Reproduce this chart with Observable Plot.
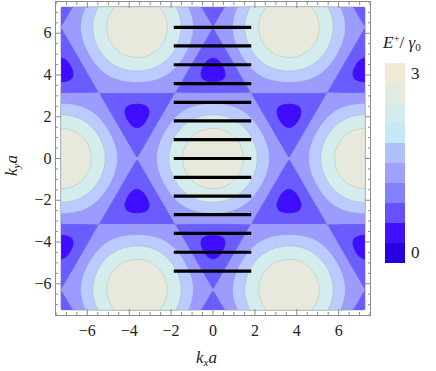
<!DOCTYPE html>
<html><head><meta charset="utf-8">
<script src="https://cdn.jsdelivr.net/npm/d3@7"></script>
<script src="https://cdn.jsdelivr.net/npm/@observablehq/plot@0.6"></script>
<style>
body{margin:0;background:#fff;font-family:"Liberation Serif",serif;}
#wrap{position:relative;width:436px;height:371px;}
.lab{position:absolute;font-style:italic;font-size:17px;color:#222;white-space:nowrap;line-height:1;}
.cb{position:absolute;left:385px;width:20px;}
.cbl{position:absolute;left:411px;font-size:17px;color:#222;line-height:1;}
</style></head>
<body><div id="wrap"></div>
<script>
// contour domain (one reciprocal period) and frame domain
const kDomain = [-7.26, 7.26];
const frameDomain = [-7.52, 7.52];
const gamma0 = 1;
// band thresholds of the contour plot and their fills
const thresholds = [0, 0.5, 1, 1.5, 2, 2.5, 3];
const bandColors = ["#3f0dff", "#6a5cff", "#9c9cff", "#bccbff", "#d4ecec", "#e6e9dc"];
// legend bar
const legendColors = ["#f2e9d6", "#e3ebe1", "#d4ecec", "#c5e8f5", "#b0c0ff", "#a0a0ff", "#8282ff", "#6650ff", "#4010ff", "#2800e0"];
const legendLabels = ["3", "0"];
// black cut lines
const lineKy = [6.28, 5.39, 4.49, 3.59, 2.69, 1.80, 0.90, 0, -0.90, -1.80, -2.69, -3.59, -4.49, -5.39];
const lineKx = [-1.85, 1.85];
// ticks
const majorTicks = [-6, -4, -2, 0, 2, 4, 6];
const minorTicks = [-7.5, -7, -6.5, -5.5, -5, -4.5, -3.5, -3, -2.5, -1.5, -1, -0.5, 0.5, 1, 1.5, 2.5, 3, 3.5, 4.5, 5, 5.5, 6.5, 7, 7.5];

const s3 = Math.sqrt(3);
const energy = (kx, ky) => gamma0 * Math.sqrt(Math.max(0,
  3 + 2 * Math.cos(s3 / 2 * kx + ky / 2) + 2 * Math.cos(s3 / 2 * kx - ky / 2) + 2 * Math.cos(ky)));

const frameStroke = "#8c8c8c";
const chart = Plot.plot({
  width: 436, height: 371,
  marginLeft: 55, marginRight: 66, marginTop: 1, marginBottom: 56,
  x: {domain: frameDomain},
  y: {domain: frameDomain},
  color: {type: "threshold", domain: thresholds.slice(1, -1), range: bandColors},
  style: {fontFamily: "Liberation Serif", fontSize: "16px", color: "#222", background: "transparent"},
  marks: [
    Plot.contour({
      value: energy, x1: kDomain[0], x2: kDomain[1], y1: kDomain[0], y2: kDomain[1],
      thresholds: thresholds.slice(0, -1), fill: "value", stroke: "#8a9a9a", strokeOpacity: 0.45, strokeWidth: 0.6
    }),
    Plot.ruleY(lineKy, {x1: lineKx[0], x2: lineKx[1], stroke: "#000", strokeWidth: 3.2}),
    Plot.frame({stroke: frameStroke}),
    Plot.axisX({anchor: "bottom", ticks: majorTicks, tickSize: 0, tickPadding: 9, label: null, tickFormat: d => d < 0 ? "\u2212" + (-d) : String(d)}),
    Plot.axisX({anchor: "bottom", ticks: majorTicks, tickSize: -6, stroke: frameStroke, tickFormat: () => "", label: null}),
    Plot.axisX({anchor: "bottom", ticks: minorTicks, tickSize: -3, stroke: frameStroke, tickFormat: () => "", label: null}),
    Plot.axisX({anchor: "top", ticks: majorTicks, tickSize: -6, stroke: frameStroke, tickFormat: () => "", label: null}),
    Plot.axisX({anchor: "top", ticks: minorTicks, tickSize: -3, stroke: frameStroke, tickFormat: () => "", label: null}),
    Plot.axisY({anchor: "left", ticks: majorTicks, tickSize: 0, tickPadding: 4, label: null, tickFormat: d => d < 0 ? "\u2212" + (-d) : String(d)}),
    Plot.axisY({anchor: "left", ticks: majorTicks, tickSize: -6, stroke: frameStroke, tickFormat: () => "", label: null}),
    Plot.axisY({anchor: "left", ticks: minorTicks, tickSize: -3, stroke: frameStroke, tickFormat: () => "", label: null}),
    Plot.axisY({anchor: "right", ticks: majorTicks, tickSize: -6, stroke: frameStroke, tickFormat: () => "", label: null}),
    Plot.axisY({anchor: "right", ticks: minorTicks, tickSize: -3, stroke: frameStroke, tickFormat: () => "", label: null})
  ]
});
const wrap = document.getElementById("wrap");
wrap.appendChild(chart);

// axis labels
const xl = document.createElement("div");
xl.className = "lab"; xl.style.left = "196px"; xl.style.top = "349px";
xl.innerHTML = 'k<sub style="font-size:11px;vertical-align:-3px">x</sub>a';
wrap.appendChild(xl);
const yl = document.createElement("div");
yl.className = "lab"; yl.style.left = "3px"; yl.style.top = "176px";
yl.style.transformOrigin = "0 0"; yl.style.transform = "rotate(-90deg)";
yl.innerHTML = 'k<sub style="font-size:11px;vertical-align:-3px">y</sub>a';
wrap.appendChild(yl);

// legend title
const lt = document.createElement("div");
lt.className = "lab"; lt.style.left = "383px"; lt.style.top = "33px";
lt.innerHTML = 'E<sup style="font-style:normal;font-size:11px;vertical-align:6px">+</sup><span style="font-style:normal">/</span>&nbsp;γ<sub style="font-style:normal;font-size:11px;vertical-align:-3px">0</sub>';
wrap.appendChild(lt);

// colour bar
legendColors.forEach((c, i) => {
  const d = document.createElement("div");
  d.className = "cb"; d.style.top = (63 + i * 20) + "px"; d.style.height = "20px"; d.style.background = c;
  wrap.appendChild(d);
});
legendLabels.forEach((t, i) => {
  const d = document.createElement("div");
  d.className = "cbl"; d.textContent = t; d.style.top = (i === 0 ? 65 : 244) + "px";
  wrap.appendChild(d);
});
</script></body></html>
